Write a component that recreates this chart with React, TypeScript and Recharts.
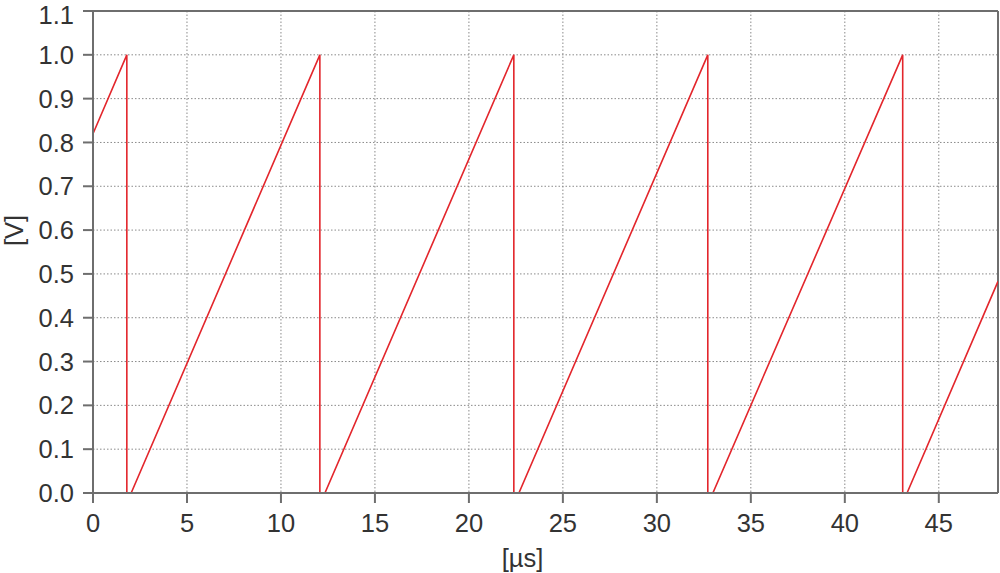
import React from 'react';
import { LineChart, Line, XAxis, YAxis, CartesianGrid, ReferenceLine } from 'recharts';

const timeUs = [0, 1.8, 1.8, 2.03, 12.07, 12.07, 12.34, 22.39, 22.39, 22.66, 32.71, 32.71, 32.98, 43.08, 43.08, 43.31, 48.15];
const voltage = [0.82, 1.0, 0, 0, 1.0, 0, 0, 1.0, 0, 0, 1.0, 0, 0, 1.0, 0, 0, 0.483];
const xTicks = [0, 5, 10, 15, 20, 25, 30, 35, 40, 45];
const yTicks = [0, 0.1, 0.2, 0.3, 0.4, 0.5, 0.6, 0.7, 0.8, 0.9, 1.0, 1.1];
const xMax = 48.15;
const yMax = 1.1;

const data = timeUs.map((t, i) => ({ t, v: voltage[i] }));

const axisColor = '#6e6e6e';
const textColor = '#333333';
const font = '"Liberation Sans", Arial, sans-serif';

export default function App() {
  return (
    <div style={{ position: 'absolute', left: 0, top: 0, width: 1000, height: 573, background: '#fff' }}>
      <LineChart width={1000} height={573} data={data} margin={{ top: 11, right: 2, bottom: 18, left: 0 }}>
        <CartesianGrid stroke="#8a8a8a" strokeDasharray="1.5 2" horizontalValues={yTicks} verticalValues={xTicks} />
        <XAxis
          dataKey="t"
          type="number"
          domain={[0, xMax]}
          ticks={xTicks}
          allowDataOverflow
          height={62}
          tickSize={10}
          tickMargin={11}
          stroke={axisColor}
          strokeWidth={2}
          tick={{ fill: textColor, fontSize: 25.5, fontFamily: font }}
          label={{ value: '[µs]', position: 'insideBottom', offset: -12, dx: -23, fill: textColor, fontSize: 25.5, fontFamily: font }}
        />
        <YAxis
          type="number"
          domain={[0, yMax]}
          ticks={yTicks}
          allowDataOverflow
          width={93}
          tickSize={10}
          tickMargin={9}
          stroke={axisColor}
          strokeWidth={2}
          tickFormatter={(v: number) => v.toFixed(1)}
          tick={{ fill: textColor, fontSize: 25.5, fontFamily: font }}
          label={{ value: '[V]', angle: -90, position: 'insideLeft', offset: 14, dy: -6, fill: textColor, fontSize: 25.5, fontFamily: font }}
        />
        <ReferenceLine y={yMax} stroke={axisColor} strokeWidth={2} ifOverflow="extendDomain" />
        <ReferenceLine x={xMax} stroke={axisColor} strokeWidth={2} ifOverflow="extendDomain" />
        <Line
          type="linear"
          dataKey="v"
          stroke="#e3262c"
          strokeWidth={1.6}
          dot={false}
          isAnimationActive={false}
        />
      </LineChart>
    </div>
  );
}
